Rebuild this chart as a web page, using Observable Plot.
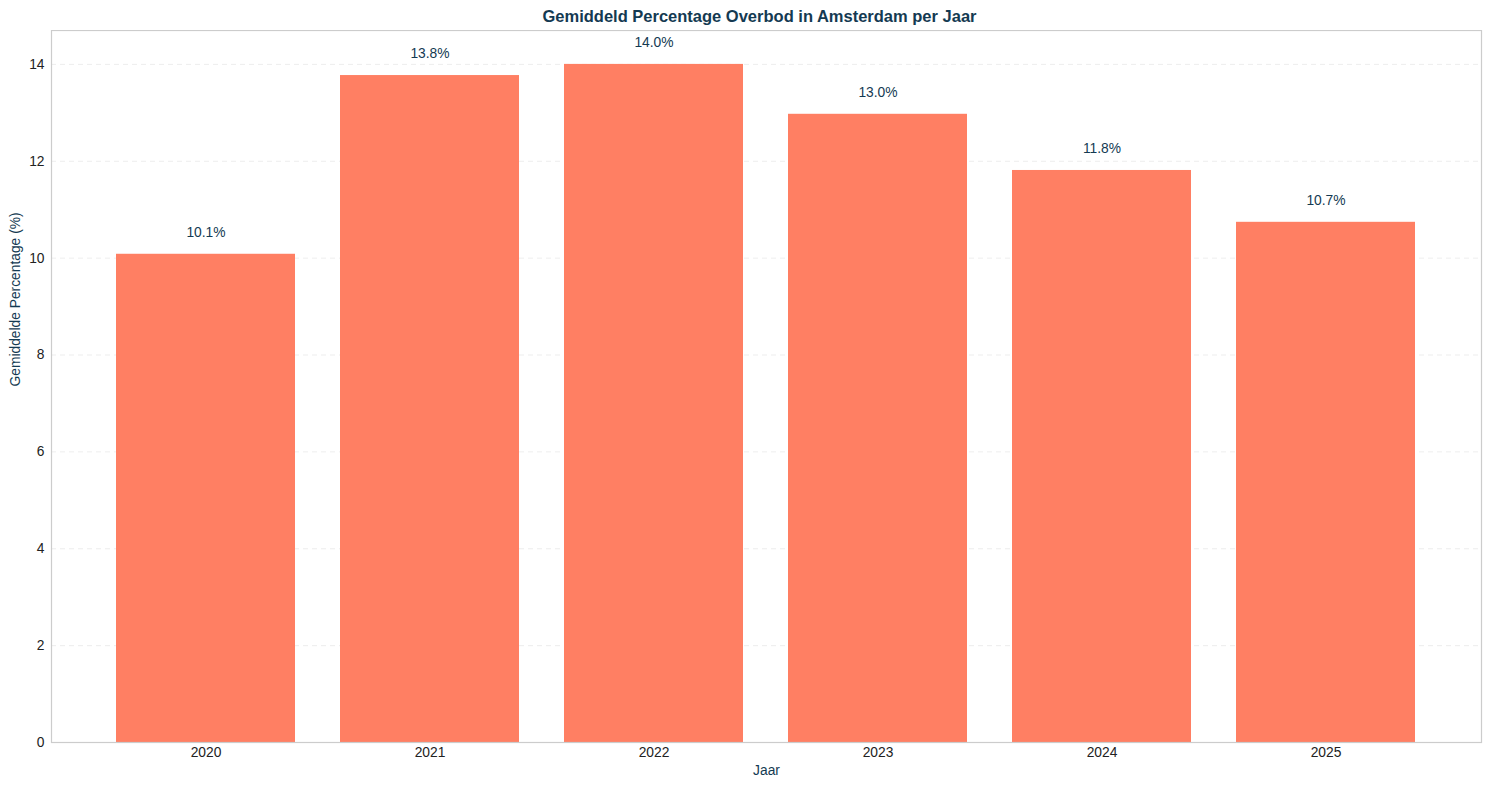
<!DOCTYPE html>
<html>
<head>
<meta charset="utf-8">
<script src="https://cdn.jsdelivr.net/npm/d3@7"></script>
<script src="https://cdn.jsdelivr.net/npm/@observablehq/plot@0.6"></script>
<style>
  html, body { margin: 0; padding: 0; background: #fff; }
  body { width: 1489px; height: 790px; overflow: hidden; font-family: "Liberation Sans", Arial, sans-serif; }
  #title { height: 30px; line-height: 32px; text-align: center; font-weight: bold; font-size: 16.5px; color: #143a52; padding-left: 30px; box-sizing: border-box; }
</style>
</head>
<body>
<div id="title">Gemiddeld Percentage Overbod in Amsterdam per Jaar</div>
<div id="chart"></div>
<script>
const years = ["2020", "2021", "2022", "2023", "2024", "2025"];
const values = [10.08, 13.77, 14.0, 12.97, 11.81, 10.74];
const yTicks = [0, 2, 4, 6, 8, 10, 12, 14];

const data = years.map((y, i) => ({year: y, value: values[i]}));
const textColor = "#143a52";

const chart = Plot.plot({
  width: 1489,
  height: 760,
  marginTop: 0,
  marginBottom: 48,
  marginLeft: 51,
  marginRight: 8,
  style: {fontFamily: "Liberation Sans, Arial, sans-serif", fontSize: "13.8px", color: "#222", background: "#fff"},
  x: {domain: years, paddingInner: 0.2, paddingOuter: 0.29, label: null},
  y: {domain: [0, 14.7], label: null},
  marks: [
    Plot.gridY(yTicks, {stroke: "#e8e8e8", strokeOpacity: 1, strokeDasharray: "5,4", strokeWidth: 0.8}),
    Plot.barY(data, {x: "year", y: "value", fill: "#ff7f63"}),
    Plot.text(data, {x: "year", y: d => d.value + 0.3, dy: -3, text: d => d.value.toFixed(1) + "%", lineAnchor: "bottom", fill: textColor, fontSize: 13.8}),
    Plot.axisY(yTicks, {tickSize: 0, tickPadding: 7, label: null, fill: "#222", fontSize: 13.8}),
    Plot.axisX({tickSize: 0, tickPadding: 5, label: null, fill: "#222", fontSize: 13.8}),
    Plot.frame({stroke: "#cccccc", strokeWidth: 1.2}),
    Plot.text(["Jaar"], {frameAnchor: "bottom", dy: 32, fill: textColor, fontSize: 13.8}),
    Plot.text(["Gemiddelde Percentage (%)"], {frameAnchor: "left", dx: -36, rotate: -90, fill: textColor, fontSize: 13.8})
  ]
});
document.getElementById("chart").appendChild(chart);
</script>
</body>
</html>
